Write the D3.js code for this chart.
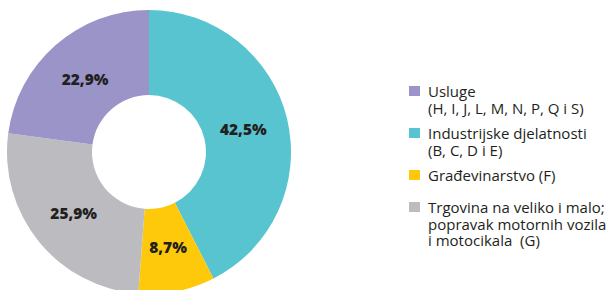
<!DOCTYPE html>
<html><head><meta charset="utf-8">
<script src="https://cdn.jsdelivr.net/npm/d3@7"></script>
<style>
html,body{margin:0;padding:0;background:#fff;}
svg{display:block;}
</style></head>
<body>
<svg id="c" width="609" height="290"></svg>
<script>
const categories = ["Industrijske djelatnosti", "Građevinarstvo", "Trgovina na veliko i malo", "Usluge"];
const values = [42.5, 8.7, 25.9, 22.9];
const valueLabels = ["42,5%", "8,7%", "25,9%", "22,9%"];
const colors = ["#58c4cf", "#fec90b", "#bcbcc0", "#9b94c8"];
const legendOrder = [3, 0, 1, 2];
const legendLines = [
  ["Industrijske djelatnosti", "(B, C, D i E)"],
  ["Građevinarstvo (F)"],
  ["Trgovina na veliko i malo;", "popravak motornih vozila", "i motocikala\u00a0 (G)"],
  ["Usluge", "(H, I, J, L, M, N, P, Q i S)"]
];

const svg = d3.select("#c");
const cx = 149, cy = 152, rOuter = 142, rInner = 57;
const g = svg.append("g").attr("transform", `translate(${cx},${cy})`);
const pie = d3.pie().sort(null).value(d => d)(values);
const arc = d3.arc().innerRadius(rInner).outerRadius(rOuter);
g.selectAll("path").data(pie).join("path")
  .attr("d", arc).attr("fill", (d, i) => colors[i]);
const labelArc = d3.arc().innerRadius(97).outerRadius(97);
g.selectAll("text").data(pie).join("text")
  .attr("transform", d => `translate(${labelArc.centroid(d)})`)
  .attr("text-anchor", "middle").attr("dy", "0.36em")
  .style("font-family", "'Open Sans', sans-serif").style("font-weight", 800)
  .style("font-size", "15.5px").attr("fill", "#231f20")
  .text((d, i) => valueLabels[i]);

const lg = svg.append("g").attr("transform", "translate(409,86)");
const itemY = d3.scaleOrdinal().domain([3, 0, 1, 2]).range([0, 42, 84, 116]);
legendOrder.forEach(i => {
  const y = itemY(i);
  lg.append("rect").attr("x", 0).attr("y", y).attr("width", 11).attr("height", 10).attr("fill", colors[i]);
  const t = lg.append("text").attr("x", 19).attr("y", y + 11)
    .style("font-family", "'Open Sans', sans-serif").style("font-size", "15px").attr("fill", "#231f20");
  legendLines[i].forEach((l, k) => t.append("tspan").attr("x", 19).attr("dy", k === 0 ? 0 : 16.5).text(l));
});
</script>
</body></html>
